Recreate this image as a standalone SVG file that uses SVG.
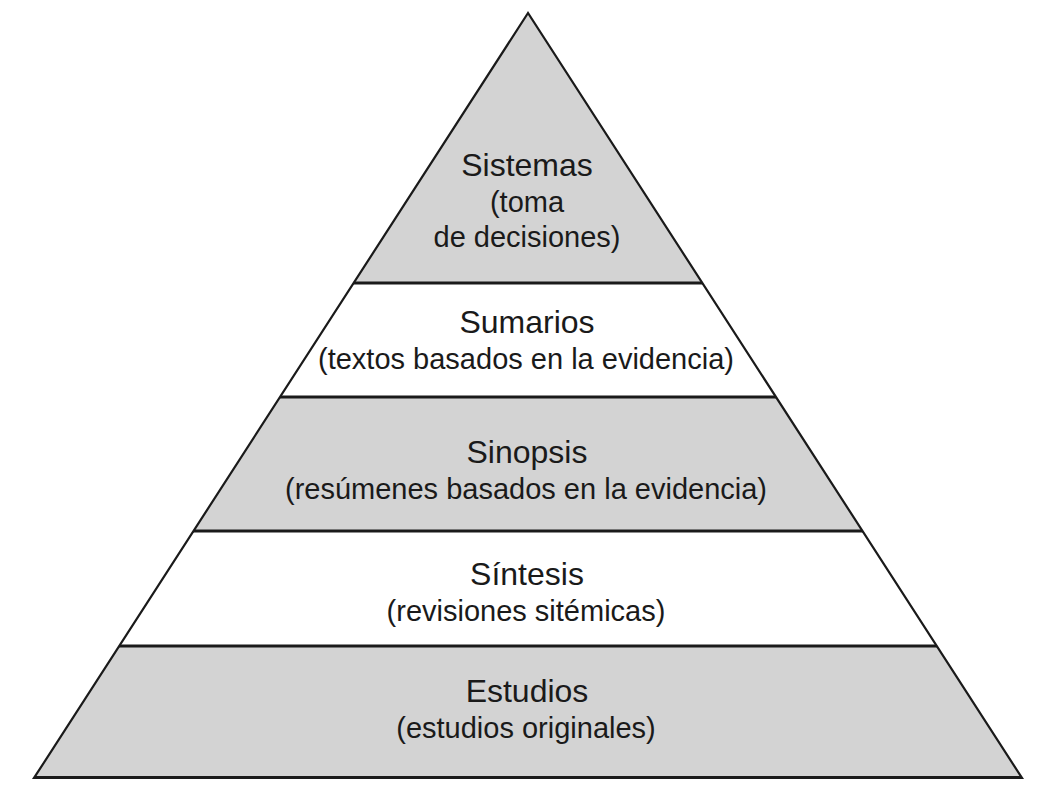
<svg xmlns="http://www.w3.org/2000/svg" width="1050" height="804" viewBox="0 0 1050 804">
<style>
.gray{fill:#d3d3d3}
.white{fill:#ffffff}
.t{font-family:"Liberation Sans",Arial,Helvetica,sans-serif;fill:#1a1a1a;text-anchor:middle}
.h{font-size:32px}
.s{font-size:29px}
.band{stroke:#1a1a1a;stroke-width:3;fill:none}
.edge{stroke:#1a1a1a;stroke-width:2.2;fill:none;stroke-linejoin:miter}
</style>
<defs>
<clipPath id="tri"><polygon points="528,13 34,778 1022,778"/></clipPath>
</defs>
<rect width="1050" height="804" fill="#ffffff"/>
<g clip-path="url(#tri)">
<g id="n-sistemas"><rect class="gray" x="0" y="0" width="1050" height="283"/></g>
<g id="n-sumarios"><rect class="white" x="0" y="283" width="1050" height="114"/></g>
<g id="n-sinopsis"><rect class="gray" x="0" y="397" width="1050" height="134"/></g>
<g id="n-sintesis"><rect class="white" x="0" y="531" width="1050" height="115"/></g>
<g id="n-estudios"><rect class="gray" x="0" y="646" width="1050" height="132"/></g>
<g id="connectors">
<line class="band" x1="0" y1="283" x2="1050" y2="283"/>
<line class="band" x1="0" y1="397" x2="1050" y2="397"/>
<line class="band" x1="0" y1="531" x2="1050" y2="531"/>
<line class="band" x1="0" y1="646" x2="1050" y2="646"/>
</g>
</g>
<polygon class="edge" points="528,13 34,778 1022,778"/>
<line x1="34" y1="777.5" x2="1022" y2="777.5" stroke="#1a1a1a" stroke-width="3"/>
<g id="l-sistemas">
<text class="t h" x="527" y="176">Sistemas</text>
<text class="t s" x="527" y="212">(toma</text>
<text class="t s" x="527" y="247">de decisiones)</text>
</g>
<g id="l-sumarios">
<text class="t h" x="527" y="333">Sumarios</text>
<text class="t s" x="526" y="369">(textos basados en la evidencia)</text>
</g>
<g id="l-sinopsis">
<text class="t h" x="527" y="463">Sinopsis</text>
<text class="t s" x="526" y="499">(resúmenes basados en la evidencia)</text>
</g>
<g id="l-sintesis">
<text class="t h" x="527" y="585">Síntesis</text>
<text class="t s" x="526" y="621">(revisiones sitémicas)</text>
</g>
<g id="l-estudios">
<text class="t h" x="527" y="702">Estudios</text>
<text class="t s" x="526" y="738">(estudios originales)</text>
</g>
</svg>
